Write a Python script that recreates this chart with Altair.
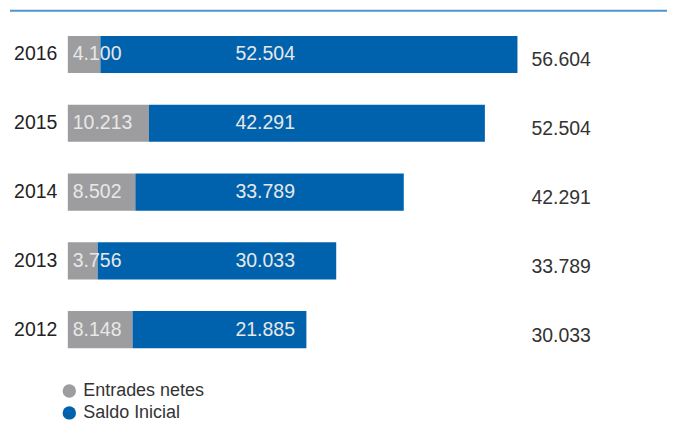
import altair as alt
import pandas as pd

FONT = "Liberation Sans"

years = ["2016", "2015", "2014", "2013", "2012"]
entrades = [4100, 10213, 8502, 3756, 8148]
saldo = [52504, 42291, 33789, 30033, 21885]
totals = [56604, 52504, 42291, 33789, 30033]
series = ["Entrades netes", "Saldo Inicial"]
colors = ["#9D9D9F", "#0062AD"]


def fmt(v):
    return f"{v:,}".replace(",", ".")


rows = []
for y, e, s in zip(years, entrades, saldo):
    rows.append(dict(year=y, series=series[0], value=e, order=0, label=fmt(e)))
    rows.append(dict(year=y, series=series[1], value=s, order=1, label=fmt(s)))
df = pd.DataFrame(rows)
tot = pd.DataFrame(dict(year=years, total=totals, label=[fmt(t) for t in totals]))

yenc = alt.Y(
    "year:N",
    sort=years,
    scale=alt.Scale(paddingInner=0.46, paddingOuter=0.23),
    axis=alt.Axis(title=None, domain=False, ticks=False, grid=False,
                  labelFontSize=19.5, labelColor="#222222", labelPadding=11,
                  labelFont=FONT),
)
xscale = alt.Scale(domain=[0, 56604], nice=False, zero=True)

base = alt.Chart(df)

bars = base.mark_bar().encode(
    x=alt.X("value:Q", stack="zero", scale=xscale, axis=None),
    y=yenc,
    color=alt.Color(
        "series:N",
        scale=alt.Scale(domain=series, range=colors),
        legend=alt.Legend(
            title=None, orient="none", legendX=-7.5, legendY=363,
            symbolType="circle", symbolSize=180, symbolStrokeWidth=0,
            symbolOpacity=1, labelFontSize=18, labelFont=FONT,
            labelColor="#333333", labelOffset=5, rowPadding=4, padding=0,
        ),
    ),
    order=alt.Order("order:Q"),
)

gray_labels = base.transform_filter(alt.datum.series == series[0]).mark_text(
    align="left", baseline="middle", fontSize=19.5, font=FONT, color="#E8E8E8"
).encode(x=alt.value(5), y=alt.Y("year:N", sort=years), text="label:N")

blue_labels = base.transform_filter(alt.datum.series == series[1]).mark_text(
    align="center", baseline="middle", fontSize=19.5, font=FONT, color="#E8E8E8"
).encode(x=alt.value(198), y=alt.Y("year:N", sort=years), text="label:N")

total_labels = alt.Chart(tot).mark_text(
    align="left", baseline="middle", fontSize=19.5, font=FONT, color="#333333", dy=6
).encode(x=alt.value(465), y=alt.Y("year:N", sort=years), text="label:N")

rule = alt.Chart(pd.DataFrame({"a": [0]})).mark_rule(
    color="#4F94CD", strokeWidth=2
).encode(x=alt.value(-58), x2=alt.value(607), y=alt.value(-9.5))

chart = alt.layer(rule, bars, gray_labels, blue_labels, total_labels).properties(
    width=451,
    height=345,
    autosize="none",
    padding={"left": 60, "top": 11.5, "right": 150, "bottom": 65},
).configure_view(stroke=None)

chart.save("out.html", embed_options={"renderer": "svg", "actions": False})
